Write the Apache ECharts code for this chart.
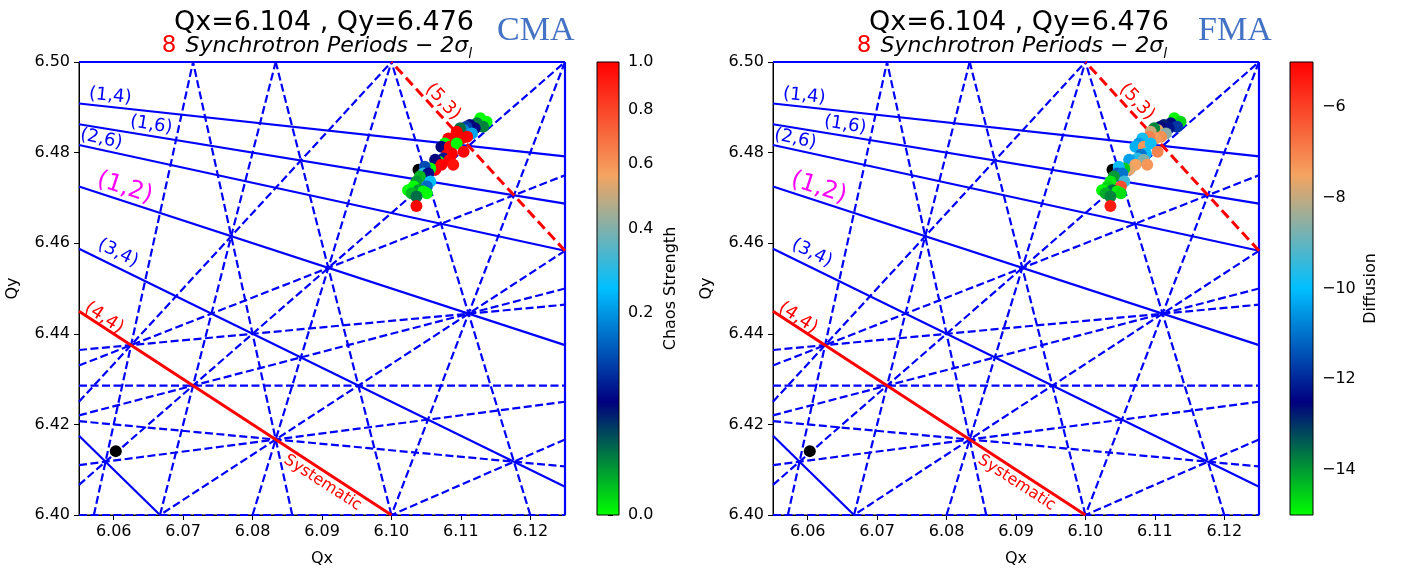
<!DOCTYPE html>
<html><head><meta charset="utf-8">
<script src="https://cdn.jsdelivr.net/npm/echarts@6/dist/echarts.min.js"></script>
<style>html,body{margin:0;padding:0;background:#fff}#c{width:1402px;height:572px}</style>
</head><body><div id="c"></div>
<script>
// ---------- data ----------
const qx = [6.1128,6.1137,6.1123,6.1132,6.1113,6.1120,6.1108,6.1104,6.1099,6.1094,6.1116,6.1109,6.1101,6.1092,6.1082,6.1077,6.1072,6.1084,6.1094,6.1104,6.1087,6.1080,6.1075,6.1084,6.1089,6.1068,6.1063,6.1072,6.1063,6.1056,6.1048,6.1046,6.1053,6.1041,6.1036,6.1056,6.1051,6.1032,6.1039,6.1024,6.1029,6.1046,6.1051,6.1036,6.1036];
const qy = [6.4876,6.4868,6.4865,6.4857,6.4861,6.4854,6.4857,6.4850,6.4854,6.4846,6.4842,6.4835,6.4831,6.4835,6.4831,6.4820,6.4813,6.4813,6.4820,6.4802,6.4798,6.4795,6.4787,6.4784,6.4773,6.4780,6.4784,6.4773,6.4762,6.4765,6.4769,6.4754,6.4754,6.4747,6.4736,6.4736,6.4725,6.4725,6.4717,6.4717,6.4710,6.4714,6.4710,6.4703,6.4682];
const cmaValues = [0,0,0.015,0.015,0.06,0.06,0.11,0.18,0.02,1,0.22,1,1,1,1,0,0.06,1,0,1,1,1,0.08,1,0.95,0,0.06,1,1,0,0.12,0.3,0.07,0.005,0.01,0.25,0.15,0,0.01,0,0.005,0,0,0.02,1];
const fmaValues = [-15,-14.6,-12.6,-11.8,-12.8,-12.3,-12.6,-7.6,-13.8,-7.9,-8.6,-7.2,-7.4,-7.0,-9.8,-10.5,-10.2,-7.3,-9.9,-7.0,-10.0,-11.0,-9.6,-8.7,-7.3,-9.8,-10.4,-7.5,-7.7,-14.5,-9.9,-11.3,-11.0,-14.0,-14.8,-9.4,-6.2,-14.6,-13.6,-15,-14.2,-14.9,-14.7,-13.8,-5.4];
const markerQx = [6.1039, 6.0603];
const markerQy = [6.4762, 6.4141];
const xTicks = [6.06,6.07,6.08,6.09,6.10,6.11,6.12];
const yTicks = [6.40,6.42,6.44,6.46,6.48,6.50];
const cmaTicks = [0,0.2,0.4,0.6,0.8,1.0];
const fmaTicks = [-14,-12,-10,-8,-6];
// resonance lines  m*Qx + n*Qy = p
const normalRes = [[1,6,45],[1,4,32],[2,6,51],[1,2,19],[3,4,44],[3,2,31],[0,2,13],[8,0,49]];
const skewRes = [[5,1,37],[6,1,43],[7,1,49],[4,-1,18],[5,-1,24],[6,-1,30],[7,-1,36],[2,-3,-7],[3,-3,-1],[4,-3,5],[5,-3,11],[0,5,32],[1,-5,-26],[2,-5,-20],[3,-5,-14],[0,7,45],[1,7,51],[1,-7,-39]];
const redNormal = [[4,4,50]];
const redSkew = [[5,3,50]];
const cmap = ['#00ff00','#000080','#00bfff','#f4a460','#ff0000'];

// ---------- layout / annotations ----------
const X0=6.055, X1=6.125, Y0=6.40, Y1=6.50;
const annotations = [
  {x:6.0595,y:6.4925,t:'(1,4)',c:'#0000ff',s:18,r:-6},
  {x:6.0654,y:6.4861,t:'(1,6)',c:'#0000ff',s:18,r:-9},
  {x:6.0582,y:6.4830,t:'(2,6)',c:'#0000ff',s:18,r:-12},
  {x:6.0616,y:6.4722,t:'(1,2)',c:'#ff00ff',s:24,r:-18},
  {x:6.0606,y:6.4578,t:'(3,4)',c:'#0000ff',s:18,r:-26},
  {x:6.0586,y:6.4435,t:'(4,4)',c:'#ff0000',s:18,r:-33},
  {x:6.0901,y:6.4071,t:'Systematic',c:'#ff0000',s:16,r:-33},
  {x:6.1074,y:6.4912,t:'(5,3)',c:'#ff0000',s:18,r:-47}
];

function seg(m,n,p){
  const e=1e-9, pts=[];
  if(n!==0){ for(const x of [X0,X1]){ const y=(p-m*x)/n; if(y>=Y0-e&&y<=Y1+e) pts.push([x,y]); } }
  if(m!==0){ for(const y of [Y0,Y1]){ const x=(p-n*y)/m; if(x>=X0-e&&x<=X1+e) pts.push([x,y]); } }
  let best=null, bd=-1;
  for(let i=0;i<pts.length;i++) for(let j=i+1;j<pts.length;j++){
    const d=(pts[i][0]-pts[j][0])**2+((pts[i][1]-pts[j][1])*0.7)**2;
    if(d>bd){bd=d;best=[pts[i],pts[j]];}
  }
  return best;
}

const series=[];
function addLines(list, k, color, width, type, z){
  list.forEach(r=>{
    const s=seg(r[0],r[1],r[2]); if(!s) return;
    series.push({type:'line', xAxisIndex:k, yAxisIndex:k, data:s, showSymbol:false, symbol:'none',
      clip:false, silent:true, animation:false, z:z,
      lineStyle:{color:color, width:width, type:type, cap:'butt', opacity:1}});
  });
}
[0,1].forEach(k=>{
  addLines(skewRes, k, '#0000ff', 2.2, [8,3.5], 2);
  addLines(normalRes, k, '#0000ff', 2.2, 'solid', 2);
  addLines(redNormal, k, '#ff0000', 3, 'solid', 3);
  addLines(redSkew, k, '#ff0000', 3, [10,5], 3);
  series.push({type:'scatter', xAxisIndex:k, yAxisIndex:k, z:4, silent:true, animation:false,
    symbolSize:12, itemStyle:{color:'#000', opacity:1}, data: markerQx.map((v,i)=>[v, markerQy[i]])});
});
const cmaIdx = series.length;
series.push({type:'scatter', xAxisIndex:0, yAxisIndex:0, z:5, silent:true, animation:false, symbolSize:12,
  itemStyle:{opacity:1},
  data: qx.map((v,i)=>[v, qy[i], Math.sqrt(cmaValues[i])])});
const fmaIdx = series.length;
series.push({type:'scatter', xAxisIndex:1, yAxisIndex:1, z:5, silent:true, animation:false, symbolSize:12,
  itemStyle:{opacity:1},
  data: qx.map((v,i)=>[v, qy[i], fmaValues[i]])});
[0,1].forEach(k=>{
  series.push({type:'scatter', xAxisIndex:k, yAxisIndex:k, z:6, silent:true, animation:false,
    symbolSize:0.01, itemStyle:{color:'#fff', opacity:0},
    data: annotations.map(a=>({value:[a.x,a.y], label:{show:true, position:'inside', formatter:a.t, opacity:1,
      color:a.c, fontSize:a.s, rotate:a.r, fontFamily:'DejaVu Sans', align:'center', verticalAlign:'middle'}}))});
});
// colorbars
const grad = () => new echarts.graphic.LinearGradient(0,0,0,1,
  cmap.slice().reverse().map((c,i)=>({offset:i/(cmap.length-1), color:c})));
function cbar(k, lo, hi){
  series.push({type:'custom', xAxisIndex:k, yAxisIndex:k, silent:true, animation:false, data:[[0,lo,hi]],
    renderItem:(params, api)=>{
      const cs=params.coordSys;
      const a=api.coord([0,api.value(1)]), b=api.coord([0,api.value(2)]);
      return {type:'rect', shape:{x:cs.x, y:b[1], width:cs.width, height:a[1]-b[1]}, style:{fill:grad()}};
    }});
}
cbar(2, 0, 1);
cbar(3, -15, -5);

const tickFont = {fontSize:16, color:'#000', fontFamily:'DejaVu Sans'};
function mainX(k){ return {type:'value', gridIndex:k, min:X0, max:X1, name:'Qx', nameLocation:'middle', nameGap:36,
  nameTextStyle:{fontSize:16,color:'#000',fontFamily:'DejaVu Sans'},
  axisLine:{show:true, lineStyle:{color:'#000',width:1}},
  axisTick:{show:true, length:5, customValues:xTicks, lineStyle:{color:'#000'}},
  axisLabel:Object.assign({customValues:xTicks, margin:9, formatter:v=>v.toFixed(2)}, tickFont),
  splitLine:{show:false}}; }
function mainY(k){ return {type:'value', gridIndex:k, min:Y0, max:Y1, name:'Qy', nameLocation:'middle', nameGap:58, nameRotate:90,
  nameTextStyle:{fontSize:16,color:'#000',fontFamily:'DejaVu Sans'},
  axisLine:{show:true, lineStyle:{color:'#000',width:1}},
  axisTick:{show:true, length:5, customValues:yTicks, lineStyle:{color:'#000'}},
  axisLabel:Object.assign({customValues:yTicks, margin:9, formatter:v=>v.toFixed(2)}, tickFont),
  splitLine:{show:false}}; }
const cbX = k => ({type:'value', gridIndex:k, min:-1, max:1, show:false});
const cmaPos = cmaTicks.map(v=>Math.sqrt(v));

const option = {
  animation:false,
  backgroundColor:'#fff',
  grid:[
    {left:79, top:62, width:486, height:453, show:true, borderColor:'#000', borderWidth:1, backgroundColor:'transparent'},
    {left:773, top:62, width:486, height:453, show:true, borderColor:'#000', borderWidth:1, backgroundColor:'transparent'},
    {left:597, top:62, width:22, height:453, show:true, borderColor:'#000', borderWidth:1, z:5},
    {left:1290, top:62, width:23, height:453, show:true, borderColor:'#000', borderWidth:1, z:5}
  ],
  xAxis:[mainX(0), mainX(1), cbX(2), cbX(3)],
  yAxis:[mainY(0), mainY(1),
    {type:'value', gridIndex:2, min:0, max:1, position:'right', name:'Chaos Strength', nameLocation:'middle', nameRotate:90, nameGap:44,
      nameTextStyle:{fontSize:16,color:'#000',fontFamily:'DejaVu Sans'},
      axisLine:{show:false}, splitLine:{show:false},
      axisTick:{show:true, length:5, customValues:cmaPos, lineStyle:{color:'#000'}},
      axisLabel:Object.assign({customValues:cmaPos, margin:9, formatter:v=>(v*v).toFixed(1)}, tickFont)},
    {type:'value', gridIndex:3, min:-15, max:-5, position:'right', name:'Diffusion', nameLocation:'middle', nameRotate:90, nameGap:50,
      nameTextStyle:{fontSize:16,color:'#000',fontFamily:'DejaVu Sans'},
      axisLine:{show:false}, splitLine:{show:false},
      axisTick:{show:true, length:5, customValues:fmaTicks, lineStyle:{color:'#000'}},
      axisLabel:Object.assign({customValues:fmaTicks, margin:9, formatter:v=>String(Math.round(v)).replace('-','\u2212')}, tickFont)}
  ],
  visualMap:[
    {type:'continuous', show:false, seriesIndex:cmaIdx, dimension:2, min:0, max:1, inRange:{color:cmap, opacity:1}},
    {type:'continuous', show:false, seriesIndex:fmaIdx, dimension:2, min:-15, max:-5, inRange:{color:cmap, opacity:1}}
  ],
  graphic: [],
  series: series
};
const sub = {
  r:{fill:'#ff0000', fontSize:23, fontFamily:'DejaVu Sans', lineHeight:30, padding:[0,9,0,0]},
  i:{fill:'#000', fontSize:22, fontStyle:'italic', fontFamily:'DejaVu Sans', lineHeight:30},
  s:{fill:'#000', fontSize:14, fontStyle:'italic', fontFamily:'DejaVu Sans', lineHeight:14, verticalAlign:'bottom'}
};
[[322,'CMA',497],[1017,'FMA',1198]].forEach(([cx,tag,tx])=>{
  option.graphic.push({type:'text', x:cx+2, y:23, silent:true, style:{text:'Qx=6.104 , Qy=6.476', fontSize:27, fontFamily:'DejaVu Sans', fill:'#000', align:'center', verticalAlign:'middle'}});
  option.graphic.push({type:'text', x:cx-5, y:46, silent:true, style:{text:'{r|8}{i|Synchrotron Periods \u2212 2\u03c3}{s|l}', rich:sub, align:'center', verticalAlign:'middle'}});
  option.graphic.push({type:'text', x:tx, y:31, silent:true, style:{text:tag, fontSize:34, fontFamily:'Liberation Serif', fill:'#4472c4', align:'left', verticalAlign:'middle'}});
});
const chart = echarts.init(document.getElementById('c'), null, {renderer:'canvas'});
chart.setOption(option);
</script></body></html>
